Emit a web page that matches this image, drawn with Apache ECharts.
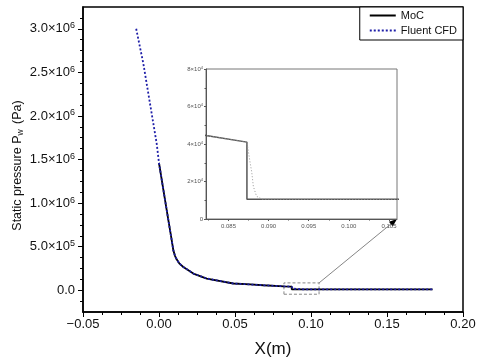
<!DOCTYPE html>
<html lang="en">
<head>
    <meta charset="utf-8">
    <title>Static pressure</title>
    <script src="https://cdn.jsdelivr.net/npm/echarts@6/dist/echarts.min.js"></script>
    <style>
        html, body { margin: 0; padding: 0; background: #fff; }
        #chart { width: 480px; height: 363px; }
    </style>
</head>
<body>
    <div id="chart"></div>
    <script>
        // MoC (solid) and Fluent CFD (dashed) wall pressure
        const xMoC = [0, 0.0028, 0.0061, 0.0083, 0.0094, 0.0105, 0.0116, 0.0135, 0.016, 0.0226, 0.0314, 0.0489, 0.06, 0.0686, 0.0822, 0.0873, 0.0873, 0.106, 0.18];
        const pMoC = [1.46e6, 1.16e6, 8.1e5, 5.8e5, 4.6e5, 3.95e5, 3.55e5, 3.05e5, 2.67e5, 1.91e5, 1.34e5, 7.7e4, 6.6e4, 5.7e4, 4.45e4, 4.1e4, 1.05e4, 1.05e4, 1.05e4];
        const xCFD = [-0.015, -0.0103, -0.0059, -0.0015, 0, 0.0028, 0.0061, 0.0083, 0.0094, 0.0105, 0.0116, 0.0135, 0.016, 0.0226, 0.0314, 0.0489, 0.06, 0.0686, 0.0822, 0.0873, 0.0875, 0.0877, 0.0879, 0.0881, 0.0885, 0.0892, 0.095, 0.106, 0.18];
        const pCFD = [3.0e6, 2.6e6, 2.14e6, 1.68e6, 1.46e6, 1.16e6, 8.1e5, 5.8e5, 4.6e5, 3.95e5, 3.55e5, 3.05e5, 2.67e5, 1.91e5, 1.34e5, 7.7e4, 6.6e4, 5.7e4, 4.45e4, 4.1e4, 3.55e4, 3.0e4, 2.5e4, 1.74e4, 1.21e4, 1.06e4, 1.05e4, 1.05e4, 1.05e4];

        // axis ticks
        const yMajor = [0, 5e5, 1e6, 1.5e6, 2e6, 2.5e6, 3e6];
        const yMinor = [-1.25e5, 1.25e5, 2.5e5, 3.75e5, 6.25e5, 7.5e5, 8.75e5, 1.125e6, 1.25e6, 1.375e6, 1.625e6, 1.75e6, 1.875e6, 2.125e6, 2.25e6, 2.375e6, 2.625e6, 2.75e6, 2.875e6, 3.125e6];
        const insetXTicks = [0.085, 0.09, 0.095, 0.1, 0.105];
        const insetXMinor = [0.0825, 0.0875, 0.0925, 0.0975, 0.1025];

        // zoomed window (inset range) and the dashed box in the main plot
        const insetX = [0.0822, 0.106];
        const insetY = [0, 8e4];
        const boxX = [0.0822, 0.1053];
        const boxY = [-4.6e4, 8.4e4];

        const zip = (xs, ys) => xs.map((x, i) => [x, ys[i]]);
        const font = 'Liberation Sans, Arial, sans-serif';

        function sciLabel(v) {
            if (Math.abs(v) < 1) return '0.0';
            const e = Math.floor(Math.log10(v) + 1e-9);
            const m = (v / Math.pow(10, e)).toFixed(1);
            return m + '×10{s|' + e + '}';
        }

        const chart = echarts.init(document.getElementById('chart'));

        chart.setOption({
            animation: false,
            textStyle: { fontFamily: font },
            grid: [
                { left: 83, right: 17, top: 7, bottom: 51, outerBoundsMode: 'none', show: true, borderColor: '#000', borderWidth: 1.5 },
                { left: 206, right: 83, top: 69, bottom: 144, outerBoundsMode: 'none', show: true, borderColor: '#777', borderWidth: 1, backgroundColor: '#fff' }
            ],
            legend: {
                data: ['MoC', 'Fluent CFD'],
                orient: 'vertical',
                top: 7,
                right: 17,
                align: 'left',
                backgroundColor: '#fff',
                borderColor: '#000',
                borderWidth: 1,
                padding: [3, 6, 4, 9],
                itemGap: 4,
                itemWidth: 26,
                itemHeight: 10,
                itemStyle: { opacity: 0 },
                textStyle: { fontSize: 11, color: '#111', fontFamily: font }
            },
            xAxis: [
                {
                    type: 'value', gridIndex: 0, min: -0.05, max: 0.2, interval: 0.05, position: 'bottom',
                    name: 'X(m)', nameLocation: 'middle', nameGap: 29,
                    nameTextStyle: { fontSize: 17, color: '#111' },
                    axisLine: { onZero: false, lineStyle: { color: '#000', width: 1.5 } },
                    axisTick: { inside: false, length: 5, lineStyle: { color: '#000' } },
                    minorTick: { show: true, splitNumber: 4, length: 3, lineStyle: { color: '#000' } },
                    splitLine: { show: false },
                    axisLabel: {
                        fontSize: 13, color: '#111', margin: 6,
                        formatter: v => (Math.abs(v) < 1e-9 ? '0.00' : v.toFixed(2).replace('-', '−'))
                    }
                },
                {
                    type: 'value', gridIndex: 1, min: insetX[0], max: insetX[1], position: 'bottom',
                    axisLine: { onZero: false, lineStyle: { color: '#555', width: 1 } },
                    axisTick: { customValues: insetXTicks, length: 2, lineStyle: { color: '#555' } },
                    splitLine: { show: false },
                    axisLabel: {
                        customValues: insetXTicks, fontSize: 6, color: '#555', margin: 4,
                        formatter: v => v.toFixed(3)
                    }
                },
                {
                    type: 'value', gridIndex: 1, min: insetX[0], max: insetX[1], position: 'bottom',
                    axisLine: { show: false, onZero: false },
                    axisTick: { customValues: insetXMinor, length: 1.5, lineStyle: { color: '#555' } },
                    axisLabel: { show: false },
                    splitLine: { show: false }
                }
            ],
            yAxis: [
                {
                    type: 'value', gridIndex: 0, min: -2.5e5, max: 3.25e6, position: 'left',
                    name: 'Static pressure P{sub|w} (Pa)', nameLocation: 'middle', nameGap: 58, nameRotate: 90,
                    nameMoveOverlap: false,
                    nameTextStyle: {
                        fontSize: 12.5, color: '#111', padding: [0, 12, 0, 0],
                        rich: { sub: { fontSize: 8.5, verticalAlign: 'bottom', padding: [5, 2, 0, 0], fontFamily: font, color: '#111' } }
                    },
                    axisLine: { onZero: false, lineStyle: { color: '#000', width: 1.5 } },
                    axisTick: { customValues: yMajor, length: 5, lineStyle: { color: '#000' } },
                    splitLine: { show: false },
                    axisLabel: {
                        customValues: yMajor, fontSize: 13, color: '#111', margin: 8,
                        formatter: sciLabel,
                        rich: { s: { fontSize: 9, verticalAlign: 'top', padding: [0, 0, 6, 0], color: '#111', fontFamily: font } }
                    }
                },
                {
                    type: 'value', gridIndex: 0, min: -2.5e5, max: 3.25e6, position: 'left',
                    axisLine: { show: false, onZero: false },
                    axisTick: { show: true, customValues: yMinor, length: 3, lineStyle: { color: '#000' } },
                    axisLabel: { show: false },
                    splitLine: { show: false }
                },
                {
                    type: 'value', gridIndex: 1, min: insetY[0], max: insetY[1], interval: 2e4, position: 'left',
                    axisLine: { onZero: false, lineStyle: { color: '#555', width: 1 } },
                    axisTick: { length: 2, lineStyle: { color: '#555' } },
                    minorTick: { show: true, splitNumber: 2, length: 1.5, lineStyle: { color: '#555' } },
                    splitLine: { show: false },
                    axisLabel: {
                        fontSize: 6, color: '#555', margin: 3,
                        formatter: v => (v === 0 ? '0' : (v / 1e4) + '×10{s|4}'),
                        rich: { s: { fontSize: 4, verticalAlign: 'top', padding: [0, 0, 3, 0], color: '#555' } }
                    }
                }
            ],
            series: [
                {
                    name: 'MoC', type: 'line', xAxisIndex: 0, yAxisIndex: 0,
                    data: zip(xMoC, pMoC), symbol: 'none',
                    lineStyle: { color: '#000', width: 1.8 },
                    itemStyle: { color: '#000' },
                    markArea: {
                        silent: true,
                        itemStyle: { color: 'rgba(0,0,0,0)', borderColor: '#888', borderWidth: 1, borderType: [3, 2] },
                        data: [[{ coord: [boxX[0], boxY[0]] }, { coord: [boxX[1], boxY[1]] }]]
                    }
                },
                {
                    name: 'Fluent CFD', type: 'line', xAxisIndex: 0, yAxisIndex: 0,
                    data: zip(xCFD, pCFD), symbol: 'none',
                    lineStyle: { color: '#1e1ea8', width: 1.8, type: [2, 2] },
                    itemStyle: { color: '#1e1ea8' }
                },
                {
                    name: 'MoC', type: 'line', xAxisIndex: 1, yAxisIndex: 2,
                    data: zip(xMoC, pMoC), symbol: 'none', clip: true,
                    lineStyle: { color: '#555', width: 1.5 }
                },
                {
                    name: 'Fluent CFD', type: 'line', xAxisIndex: 1, yAxisIndex: 2,
                    data: zip(xCFD, pCFD), symbol: 'none', clip: true,
                    lineStyle: { color: '#999', width: 1, type: [1, 2] }
                }
            ]
        });

        // connector from the dashed box to the inset, with an arrow head
        const p1 = chart.convertToPixel({ gridIndex: 0 }, [boxX[1], boxY[1]]);
        const p2 = chart.convertToPixel({ gridIndex: 1 }, [insetX[1], insetY[0]]);
        const dx = p2[0] - p1[0], dy = p2[1] - p1[1];
        const len = Math.sqrt(dx * dx + dy * dy);
        const ux = dx / len, uy = dy / len;
        const ah = 8, aw = 3;
        const bx = p2[0] - ux * ah, by = p2[1] - uy * ah;
        chart.setOption({
            graphic: [
                {
                    type: 'line', silent: true,
                    shape: { x1: p1[0], y1: p1[1], x2: bx, y2: by },
                    style: { stroke: '#666', lineWidth: 0.8 }
                },
                {
                    type: 'polygon', silent: true,
                    shape: { points: [[p2[0], p2[1]], [bx - uy * aw, by + ux * aw], [bx + uy * aw, by - ux * aw]] },
                    style: { fill: '#000' }
                }
            ]
        });

        window.addEventListener('resize', function () {
            chart.resize();
        });
    </script>
</body>
</html>
